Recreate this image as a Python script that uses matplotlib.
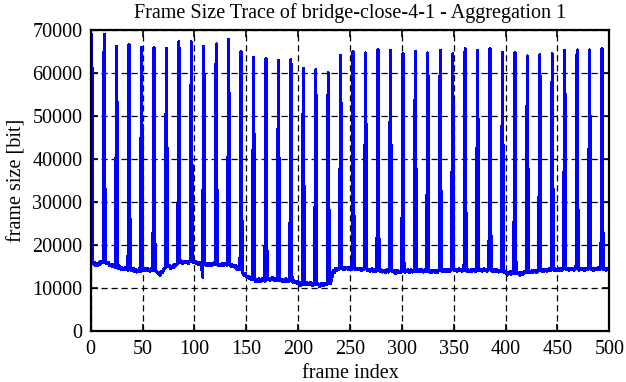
import matplotlib
matplotlib.use("Agg")
import matplotlib.pyplot as plt
import numpy as np

plt.rcParams['font.family'] = ['Liberation Serif', 'DejaVu Serif']

title = "Frame Size Trace of bridge-close-4-1 - Aggregation 1"
x_label = "frame index"
y_label = "frame size [bit]"
x_ticks = [0, 50, 100, 150, 200, 250, 300, 350, 400, 450, 500]
y_ticks = [0, 10000, 20000, 30000, 40000, 50000, 60000, 70000]

# frame 0 (before first I frame)
first_frame = 16200

# I-frame sizes, one per GOP (frames 1, 13, 25, ...)
i_frames = [69000, 69000, 66300, 66700, 66000, 66000, 65700, 67300, 67300, 66300,
            66800, 67800, 65000, 63600, 63300, 63000, 63100, 61100, 60800, 60100,
            64200, 65000, 64700, 65500, 65300, 64500, 65000, 64700, 65300, 64500,
            65700, 65300, 65700, 64800, 64800, 64000, 64300, 64500, 65300, 65400,
            65400, 65700]

# remaining frames of each GOP
gop_rest = [
    [16100, 15600, 15900, 15300, 15700, 15400, 16000, 15600, 16300, 15900, 16500],
    [16200, 15800, 15700, 16000, 15400, 15600, 15200, 15500, 15000, 15300, 14900],
    [14700, 15200, 14800, 14500, 14900, 14300, 14700, 14400, 14900, 14500, 14200],
    [14800, 14300, 14100, 14600, 13900, 14400, 13800, 14200, 13900, 14500, 14000],
    [14600, 14200, 14500, 14100, 14500, 14700, 14200, 14000, 14400, 14700, 14100],
    [14500, 14000, 13800, 13500, 13400, 13100, 13900, 13600, 14200, 14600, 14900],
    [15400, 15000, 15300, 14700, 15100, 15200, 14800, 15500, 15200, 15700, 15800],
    [16300, 15900, 16200, 15800, 16200, 16300, 15900, 16300, 15800, 16100, 16300],
    [16500, 16100, 16000, 16200, 15700, 16000, 15600, 15900, 15500, 15400, 12600],
    [15900, 15400, 15700, 15300, 15700, 15200, 15800, 15400, 15700, 16000, 15500],
    [15800, 15300, 15600, 15200, 15600, 15700, 15300, 15700, 15800, 15400, 15700],
    [15600, 15200, 15500, 15000, 15400, 14900, 15200, 14600, 14400, 14900, 14500],
    [14100, 13500, 13100, 13400, 12700, 12500, 12800, 12200, 12600, 12100, 12400],
    [12000, 11600, 12100, 11700, 12200, 11900, 11500, 12000, 12300, 12000, 11700],
    [12400, 12000, 12300, 11900, 12200, 12500, 12000, 11800, 12200, 12400, 11900],
    [12300, 11800, 12100, 11600, 12000, 11700, 12200, 11800, 11500, 11800, 12000],
    [11700, 11400, 11800, 11300, 11600, 11200, 11500, 11100, 10600, 11300, 10900],
    [11400, 11000, 11300, 10800, 11200, 10900, 11300, 11000, 10700, 11200, 10900],
    [11300, 10900, 10800, 10400, 10900, 11100, 10600, 11000, 11200, 10800, 11100],
    [11400, 11100, 12000, 13200, 14100, 13700, 14500, 14200, 14700, 14400, 14800],
    [14900, 14500, 14800, 14400, 14700, 14900, 14500, 14800, 14400, 14700, 14500],
    [14800, 14400, 14300, 14600, 14300, 14700, 14400, 14200, 14600, 14300, 14500],
    [14600, 14100, 14400, 14000, 14300, 14500, 14100, 13900, 14300, 14000, 14400],
    [14500, 14000, 14300, 13800, 14200, 13900, 13700, 14100, 14300, 13800, 14200],
    [14400, 13900, 13800, 14100, 13500, 13900, 14200, 13600, 14000, 13700, 14100],
    [14300, 13800, 14200, 13900, 14300, 13700, 14100, 14300, 13800, 14200, 13900],
    [14400, 14000, 14300, 13900, 14200, 14400, 14000, 13800, 14200, 14300, 13900],
    [14200, 13800, 14100, 13700, 14000, 14200, 13800, 14100, 13700, 14000, 14200],
    [14400, 14000, 14300, 13900, 14200, 14400, 14000, 14300, 13900, 14200, 14300],
    [14500, 14100, 14400, 14000, 14300, 14500, 14100, 14400, 14000, 14300, 14200],
    [14400, 14000, 14300, 13900, 14200, 14400, 14000, 14300, 14200, 13900, 14300],
    [14500, 14100, 14400, 14000, 14300, 14500, 14100, 14400, 14000, 14300, 14400],
    [14400, 14000, 14300, 13900, 14200, 14400, 14000, 13800, 14200, 13900, 14100],
    [14000, 13600, 13900, 13400, 13100, 13600, 13800, 13300, 13700, 13900, 13500],
    [13800, 13400, 13700, 13300, 13000, 13500, 13700, 13300, 13800, 14000, 13600],
    [14100, 13700, 14000, 13600, 14100, 13800, 14200, 13900, 13700, 14100, 14300],
    [14400, 14000, 14300, 13900, 14200, 14400, 14000, 14300, 14500, 14100, 14400],
    [14600, 14200, 14500, 14100, 14400, 14600, 14200, 14500, 14100, 14400, 14600],
    [14700, 14300, 14600, 14200, 14500, 14700, 14300, 14600, 14200, 14500, 14700],
    [14600, 14200, 14500, 14700, 14300, 14600, 14200, 14500, 14700, 14300, 14600],
    [14700, 14300, 14600, 14200, 14500, 14700, 14300, 14600, 14800, 14400, 14700],
    [14700, 14300, 14600, 14200, 14500, 14400],
]

sizes = [first_frame]
for peak, rest in zip(i_frames, gop_rest):
    sizes.append(peak)
    sizes.extend(rest)
sizes = np.array(sizes)
frames = np.arange(len(sizes))

fig = plt.figure(figsize=(6.26, 3.82), dpi=100)
ax = fig.add_axes([0.1449, 0.1327, 0.8284, 0.788])

ax.plot(frames, sizes, color='#0000ff', lw=1.6, antialiased=False, zorder=3)

ax.set_xlim(0, 500)
ax.set_ylim(0, 70000)
ax.set_xticks(x_ticks)
ax.set_yticks(y_ticks)
ax.grid(True, color='black', lw=0.9, linestyle=(0, (5, 3)), zorder=1)
ax.set_axisbelow(True)
ax.tick_params(direction='in', top=True, right=True, length=5, width=1.2,
               labelsize=14.5, pad=6)
for s in ax.spines.values():
    s.set_linewidth(1.6)
    s.set_zorder(4)

ax.set_title(title, fontsize=14.5, pad=9)
ax.set_xlabel(x_label, fontsize=14.5, labelpad=3.5)
ax.set_ylabel(y_label, fontsize=14.5, labelpad=4)

fig.savefig("out.png", dpi=100)
